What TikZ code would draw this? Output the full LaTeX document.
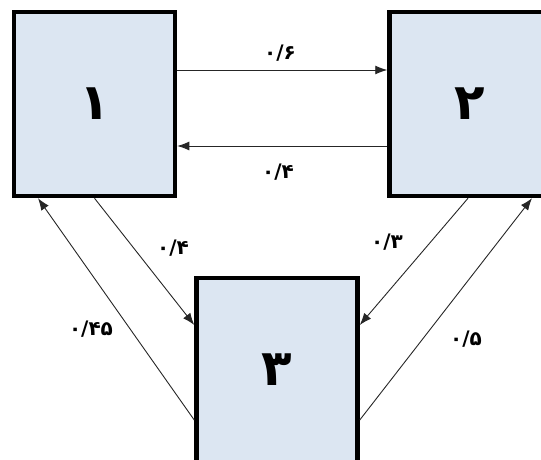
\documentclass[tikz,border=0pt]{standalone}
\usepackage{fontspec}
\usepackage{xcolor}
\usetikzlibrary{arrows.meta}
\newfontfamily\fafont[Script=Arabic]{DejaVu Sans}
\definecolor{boxfill}{RGB}{220,230,242}
\tikzset{
  state/.style={draw=black, fill=boxfill, line width=4.5pt, minimum width=161pt, minimum height=184pt, inner sep=0pt, font=\fafont\bfseries\fontsize{50}{52}\selectfont},
  trans/.style={-{Latex[length=12pt,width=9pt]}, line width=0.9pt, draw=black!85},
  prob/.style={font=\fafont\bfseries\fontsize{20}{22}\selectfont, inner sep=1pt}
}

\begin{document}
\begin{tikzpicture}[x=1pt,y=-1pt]
  \useasboundingbox (0,0) rectangle (541,460);
  \clip (0,0) rectangle (541,460);
  \node[state] (b1) at (94.5,104) {۱};
  \node[state] (b2) at (470,104) {۲};
  \node[state] (b3) at (277,370) {۳};
  \draw[trans] ([yshift=34pt]b1.east) -- ([yshift=34pt]b2.west);
  \draw[trans] ([yshift=-42pt]b2.west) -- ([yshift=-42pt]b1.east);
  \draw[trans] (b1.south) -- ([yshift=45pt]b3.west);
  \draw[trans] ([yshift=-50pt]b3.west) -- ([xshift=-56.5pt]b1.south);
  \draw[trans] ([xshift=-2pt]b2.south) -- ([yshift=45pt]b3.east);
  \draw[trans] ([yshift=-50pt]b3.east) -- ([xshift=62pt]b2.south);
  \node[prob] (p12) at (280,53) {۰/۶};
  \node[prob] (p21) at (278,172) {۰/۴};
  \node[prob] (p13) at (173,248) {۰/۴};
  \node[prob] (p31) at (91,329) {۰/۴۵};
  \node[prob] (p23) at (387,242) {۰/۳};
  \node[prob] (p32) at (466,339) {۰/۵};
\end{tikzpicture}
\end{document}
